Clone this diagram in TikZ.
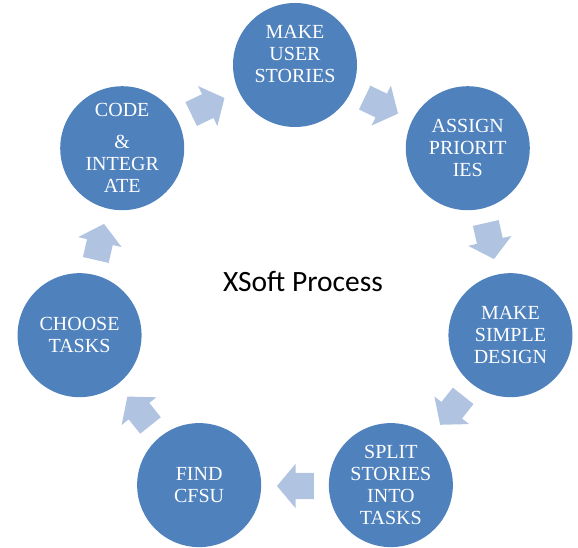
\documentclass[tikz,border=0pt]{standalone}
\usepackage{fontspec}
\setmainfont{Liberation Serif}
\newfontfamily\titlefont{Carlito}
\usetikzlibrary{shapes.arrows,calc}

\definecolor{stageblue}{RGB}{79,129,189}
\definecolor{flowblue}{RGB}{176,195,224}

\begin{document}
\begin{tikzpicture}[x=1pt,y=1pt,
    stage/.style={circle,fill=stageblue,text=white,minimum size=124pt,inner sep=0pt,
                  align=center,font=\fontsize{20}{22}\selectfont},
    flow/.style={single arrow,fill=flowblue,minimum height=37pt,minimum width=44pt,
                 single arrow head extend=9pt,single arrow tip angle=100,
                 inner xsep=0pt,inner ysep=13pt}]

            \useasboundingbox (0,0) rectangle (578,548);
            \coordinate (hub) at (295,262);

            % the seven stages, clockwise from the top
            \node[stage] (stories)  at ($(hub)+(90:221)$)      {MAKE\\USER\\STORIES\\~};
            \node[stage] (assign)   at ($(hub)+(38.57:221)$)   {ASSIGN\\PRIORIT\\IES};
            \node[stage] (design)   at ($(hub)+(-12.86:221)$)  {MAKE\\SIMPLE\\DESIGN};
            \node[stage] (split)    at ($(hub)+(-64.29:221)$)  {SPLIT\\STORIES\\INTO\\TASKS};
            \node[stage] (cfsu)     at ($(hub)+(-115.71:221)$) {FIND\\CFSU};
            \node[stage] (choose)   at ($(hub)+(-167.14:221)$) {CHOOSE\\TASKS};
            \node[stage] (code)     at ($(hub)+(141.43:221)$)  {CODE\\[10pt]\&\\INTEGR\\ATE};

            % block arrows between the stages
            \node[flow,rotate=-25.71,xshift=-6pt]  (f1) at ($(hub)+(64.29:200)$)   {};
            \node[flow,rotate=-77.14,xshift=-6pt]  (f2) at ($(hub)+(12.86:200)$)   {};
            \node[flow,rotate=-128.57,xshift=-6pt] (f3) at ($(hub)+(-38.57:200)$)  {};
            \node[flow,rotate=180,xshift=-6pt]     (f4) at ($(hub)+(-90:200)$)     {};
            \node[flow,rotate=128.57,xshift=-6pt]  (f5) at ($(hub)+(-141.43:200)$) {};
            \node[flow,rotate=77.14,xshift=-6pt]   (f6) at ($(hub)+(167.14:200)$)  {};
            \node[flow,rotate=25.71,xshift=-6pt]   (f7) at ($(hub)+(115.71:200)$)  {};

            \node[font=\titlefont\fontsize{29.5}{31}\selectfont] (title) at (303,266) {XSoft Process};

        \end{tikzpicture}
\end{document}
